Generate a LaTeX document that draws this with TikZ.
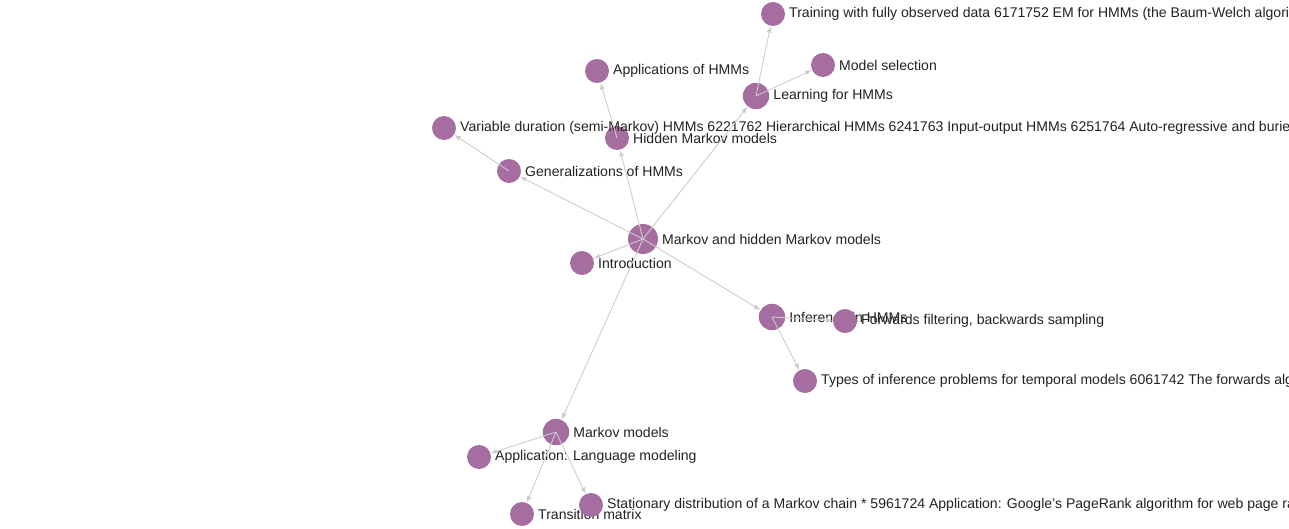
\documentclass[tikz,border=0pt]{standalone}
\usepackage{fontspec}
\setmainfont{Liberation Sans}
\usetikzlibrary{arrows.meta}
\definecolor{dotpurple}{RGB}{166,109,160}
\definecolor{edgegray}{RGB}{204,204,204}
\definecolor{textgray}{RGB}{34,34,34}

\begin{document}
\begin{tikzpicture}[
  x=0.02cm, y=-0.02cm,
  dot/.style={circle, fill=dotpurple, inner sep=0pt, minimum size=0.48cm},
  bigdot/.style={dot, minimum size=0.6cm},
  middot/.style={dot, minimum size=0.53cm},
  lbl/.style={font=\fontsize{8}{9.6}\selectfont, text=textgray, inner sep=0pt},
  label distance=0.07cm,
  arr/.style={-{Latex[length=1.3mm, width=1mm]}, draw=edgegray, line width=0.5pt}
]
\useasboundingbox (0,0) rectangle (1289,528);
\clip (0,0) rectangle (1289,528);

% root and first level
\node[bigdot, label={[lbl]right:Markov and hidden Markov models}] (root) at (643,239) {};
\node[dot, label={[lbl]right:Introduction}] (intro) at (582,263) {};
\node[dot, label={[lbl]right:Hidden Markov models}] (hmm) at (617,138) {};
\node[dot, label={[lbl]right:Applications of HMMs}] (apps) at (597,71) {};
\node[middot, label={[lbl]right:Learning for HMMs}] (learn) at (756,96) {};
\node[dot, label={[lbl]right:Training with fully observed data 6171752 EM for HMMs (the Baum-Welch algorithm)}] (train) at (773,14) {};
\node[dot, label={[lbl]right:Model selection}] (modsel) at (823,65) {};
\node[dot, label={[lbl]right:Generalizations of HMMs}] (gen) at (509,171) {};
\node[dot, label={[lbl]right:Variable duration (semi-Markov) HMMs 6221762 Hierarchical HMMs 6241763 Input-output HMMs 6251764 Auto-regressive and buried}] (vardur) at (444,128) {};
\node[middot, label={[lbl]right:Inference in HMMs}] (infer) at (772,317) {};
\node[dot, label={[lbl]right:Forwards filtering, backwards sampling}] (ffbs) at (845,321) {};
\node[dot, label={[lbl]right:Types of inference problems for temporal models 6061742 The forwards algorithm}] (types) at (805,381) {};

% markov models branch
\node[middot, label={[lbl]right:Markov models}] (mm) at (556,432) {};
\node[dot, label={[lbl]right:{Application: Language modeling}}] (langmod) at (479,457) {};
\node[dot, label={[lbl]right:Transition matrix}] (transmat) at (522,514) {};
\node[dot, label={[lbl]right:Stationary distribution of a Markov chain * 5961724 Application: Google’s PageRank algorithm for web page ranking}] (stat) at (591,505) {};

\draw[arr] (root.center) -- (intro);
\draw[arr] (root.center) -- (hmm);
\draw[arr] (root.center) -- (gen);
\draw[arr] (root.center) -- (learn);
\draw[arr] (root.center) -- (infer);
\draw[arr] (root.center) -- (mm);
\draw[arr] (hmm.center) -- (apps);
\draw[arr] (learn.center) -- (train);
\draw[arr] (learn.center) -- (modsel);
\draw[arr] (gen.center) -- (vardur);
\draw[arr] (infer.center) -- (ffbs);
\draw[arr] (infer.center) -- (types);
\draw[arr] (mm.center) -- (langmod);
\draw[arr] (mm.center) -- (transmat);
\draw[arr] (mm.center) -- (stat);

\end{tikzpicture}
\end{document}
